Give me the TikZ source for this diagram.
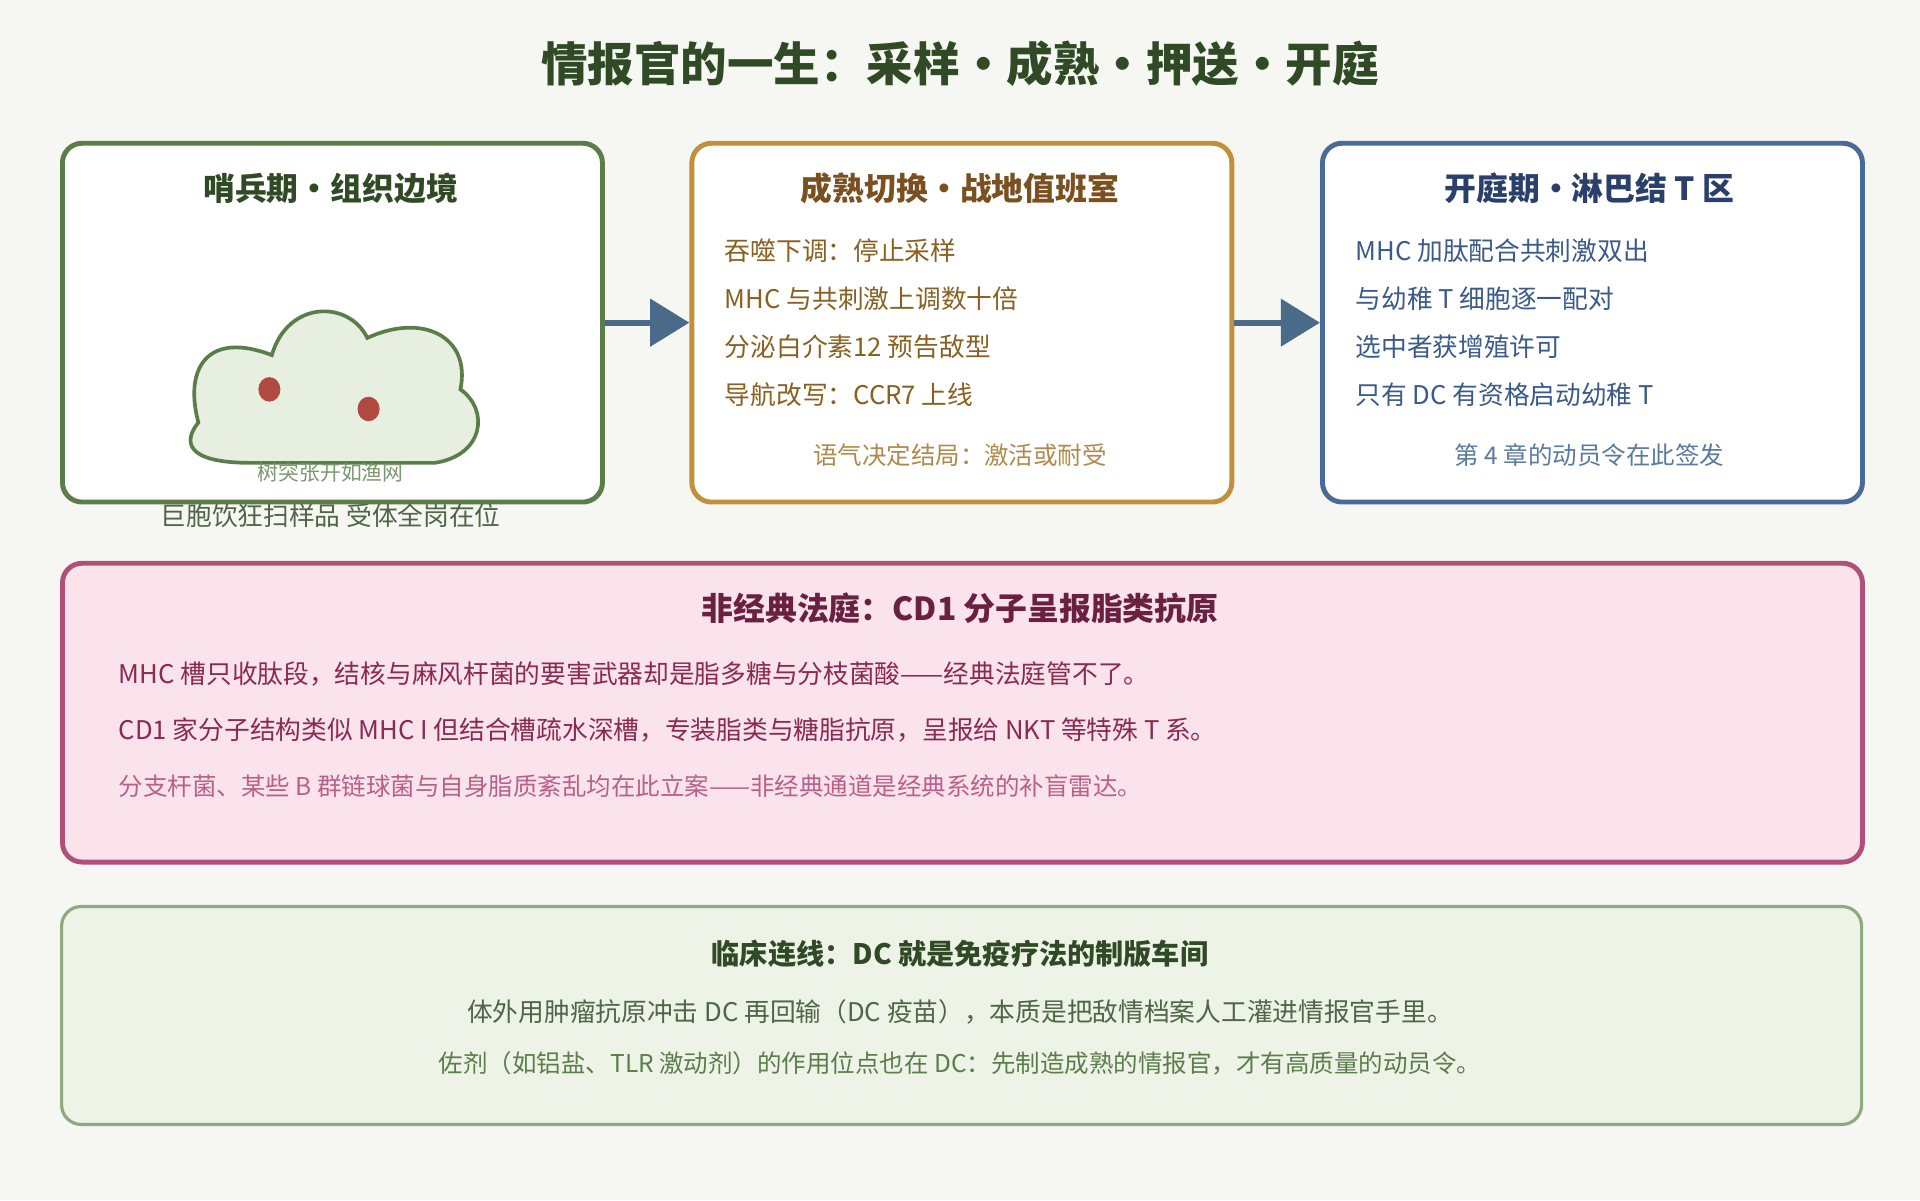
\documentclass[tikz,border=0pt]{standalone}
\usepackage{fontspec}
\setmainfont{Noto Sans CJK SC}
\usetikzlibrary{arrows.meta}
\definecolor{bg}{HTML}{F6F7F2}
\definecolor{gS}{HTML}{5A7D4A}
\definecolor{gT}{HTML}{2F4A25}
\definecolor{oS}{HTML}{C0903A}
\definecolor{oT}{HTML}{7A5020}
\definecolor{oL}{HTML}{8A6020}
\definecolor{oF}{HTML}{B08A4A}
\definecolor{bS}{HTML}{4A6A9A}
\definecolor{bT}{HTML}{2A3F6A}
\definecolor{bL}{HTML}{3A5A8A}
\definecolor{bF}{HTML}{5A7AA0}
\definecolor{arr}{HTML}{4A6A8A}
\definecolor{pS}{HTML}{B05078}
\definecolor{pF}{HTML}{FBE3EC}
\definecolor{pT}{HTML}{6A2040}
\definecolor{pL}{HTML}{8A2A50}
\definecolor{pL2}{HTML}{B8608A}
\definecolor{lgF}{HTML}{EEF3E8}
\definecolor{lgS}{HTML}{90AA80}
\definecolor{cF}{HTML}{E6EFE0}
\definecolor{dot}{HTML}{B04A40}
\begin{document}
\begin{tikzpicture}[x=0.5pt,y=-0.5pt,
  panel/.style={draw, line width=2pt, rounded corners=8pt, fill=white},
  ptitle/.style={font=\bfseries\fontsize{13}{15}\selectfont},
  line/.style={anchor=west, font=\fontsize{10.5}{12}\selectfont},
  foot/.style={font=\fontsize{10}{12}\selectfont},
  flow/.style={line width=2.5pt, arr, -{Triangle[length=16pt,width=19pt]}}]
\useasboundingbox[fill=bg] (0,0) rectangle (1568,980);
\node[font=\bfseries\fontsize{19}{22}\selectfont, text=gT] (title) at (784,52) {情报官的一生：采样・成熟・押送・开庭};
% panel 1
\node[panel, draw=gS, minimum width=441pt/2, minimum height=293pt/2, anchor=north west] (p1) at (49,115) {};
\node[ptitle, text=gT] (p1t) at (270,154) {哨兵期・组织边境};
\draw[gS, line width=1.5pt, fill=cF] (205,378) .. controls (150,378) and (150,360) .. (162,345)
  .. controls (150,300) and (170,270) .. (222,290)
  .. controls (235,245) and (285,245) .. (300,276)
  .. controls (345,255) and (385,275) .. (376,318)
  .. controls (400,335) and (395,372) .. (355,378) -- cycle;
\fill[dot] (220,318) ellipse (9 and 10);
\fill[dot] (301,334) ellipse (9 and 10);
\node[font=\fontsize{8.5}{10}\selectfont, text=gS!80] (p1c) at (270,386) {树突张开如渔网};
\node[foot, text=gT!85, font=\fontsize{10.5}{12}\selectfont] (p1u) at (270,421) {巨胞饮狂扫样品 受体全岗在位};
% panel 2
\node[panel, draw=oS, minimum width=441pt/2, minimum height=293pt/2, anchor=north west] (p2) at (563,115) {};
\node[ptitle, text=oT] (p2t) at (784,154) {成熟切换・战地值班室};
\node[line, text=oL] (p2a) at (585,205) {吞噬下调：停止采样};
\node[line, text=oL] (p2b) at (585,244) {MHC 与共刺激上调数十倍};
\node[line, text=oL] (p2c) at (585,283) {分泌白介素12 预告敌型};
\node[line, text=oL] (p2d) at (585,322) {导航改写：CCR7 上线};
\node[foot, text=oF] (p2f) at (784,372) {语气决定结局：激活或耐受};
% panel 3
\node[panel, draw=bS, minimum width=441pt/2, minimum height=293pt/2, anchor=north west] (p3) at (1078,115) {};
\node[ptitle, text=bT] (p3t) at (1298,154) {开庭期・淋巴结 T 区};
\node[line, text=bL] (p3a) at (1100,205) {MHC 加肽配合共刺激双出};
\node[line, text=bL] (p3b) at (1100,244) {与幼稚 T 细胞逐一配对};
\node[line, text=bL] (p3c) at (1100,283) {选中者获增殖许可};
\node[line, text=bL] (p3d) at (1100,322) {只有 DC 有资格启动幼稚 T};
\node[foot, text=bF] (p3f) at (1298,372) {第 4 章的动员令在此签发};
\draw[flow] (p1.east) -- (p2.west);
\draw[flow] (p2.east) -- (p3.west);
% panel 4
\node[panel, draw=pS, fill=pF, minimum width=1470pt/2, minimum height=244pt/2, anchor=north west] (p4) at (49,458) {};
\node[ptitle, text=pT] (p4t) at (784,497) {非经典法庭：CD1 分子呈报脂类抗原};
\node[line, text=pL] (p4a) at (90,550) {MHC 槽只收肽段，结核与麻风杆菌的要害武器却是脂多糖与分枝菌酸——经典法庭管不了。};
\node[line, text=pL] (p4b) at (90,596) {CD1 家分子结构类似 MHC I 但结合槽疏水深槽，专装脂类与糖脂抗原，呈报给 NKT 等特殊 T 系。};
\node[line, text=pL2, font=\fontsize{10}{12}\selectfont] (p4c) at (90,642) {分支杆菌、某些 B 群链球菌与自身脂质紊乱均在此立案——非经典通道是经典系统的补盲雷达。};
% panel 5
\node[panel, draw=lgS, fill=lgF, line width=1.3pt, minimum width=1470pt/2, minimum height=178pt/2, anchor=north west] (p5) at (49,739) {};
\node[ptitle, text=gT, font=\bfseries\fontsize{11.5}{14}\selectfont] (p5t) at (784,779) {临床连线：DC 就是免疫疗法的制版车间};
\node[foot, text=gT!85, font=\fontsize{10.5}{12}\selectfont] (p5a) at (784,826) {体外用肿瘤抗原冲击 DC 再回输（DC 疫苗），本质是把敌情档案人工灌进情报官手里。};
\node[foot, text=gS] (p5b) at (784,868) {佐剂（如铝盐、TLR 激动剂）的作用位点也在 DC：先制造成熟的情报官，才有高质量的动员令。};
\end{tikzpicture}
\end{document}
